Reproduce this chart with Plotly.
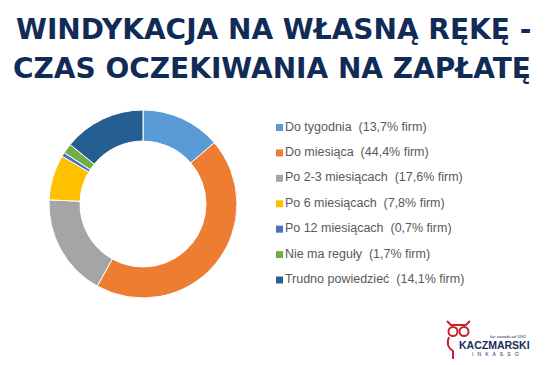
import plotly.graph_objects as go

labels = ["Do tygodnia", "Do miesiąca", "Po 2-3 miesiącach", "Po 6 miesiącach",
          "Po 12 miesiącach", "Nie ma reguły", "Trudno powiedzieć"]
values = [13.7, 44.4, 17.6, 7.8, 0.7, 1.7, 14.1]
colors = ["#5B9BD5", "#ED7D31", "#A5A5A5", "#FFC000", "#4472C4", "#70AD47", "#255E91"]

title_lines = ["WINDYKACJA NA WŁASNĄ RĘKĘ -", "CZAS OCZEKIWANIA NA ZAPŁATĘ"]

W, H = 550, 365
legend_text = [f"{l}  ({str(v).replace('.', ',')}% firm)" for l, v in zip(labels, values)]


def px(x):
    return x / W


def py(y):
    return 1 - y / H


fig = go.Figure()
fig.add_trace(go.Pie(
    labels=labels, values=values, sort=False, direction="clockwise", rotation=0,
    hole=0.67, marker=dict(colors=colors, line=dict(color="white", width=1)),
    textinfo="none", hoverinfo="label+percent", showlegend=False,
    domain=dict(x=[px(143 - 94), px(143 + 94)], y=[py(298), py(110)]),
))

# legend drawn as scatter on a hidden axis
idx = list(range(len(labels)))
fig.add_trace(go.Scatter(
    x=[0] * len(labels), y=idx, mode="markers+text",
    marker=dict(symbol="square", size=7, color=colors),
    text=legend_text, textposition="middle right",
    textfont=dict(family="Liberation Sans, Arial, sans-serif", size=12.5, color="#595959"),
    showlegend=False, hoverinfo="skip", cliponaxis=False,
))

step = (280 - 127.5) / 6
fig.update_layout(
    width=W, height=H, margin=dict(l=0, r=0, t=0, b=0),
    paper_bgcolor="white", plot_bgcolor="rgba(0,0,0,0)",
    xaxis=dict(domain=[px(279.5), 1], range=[0, W - 279.5], visible=False, fixedrange=True),
    yaxis=dict(domain=[0, 1], range=[(H - 127.5) / step, -127.5 / step], visible=False, fixedrange=True),
    font=dict(family="Liberation Sans, Arial, sans-serif"),
)

for yc, xc, line in zip([29.5, 68], [273.5, 272], title_lines):
    fig.add_annotation(text=f"<b>{line}</b>", xref="paper", yref="paper",
                       x=px(xc), y=py(yc), xanchor="center", yanchor="middle",
                       showarrow=False,
                       font=dict(family="DejaVu Sans, sans-serif", size=28, color="#112B57"))

# logo approximation
navy = "#1B2A5E"
red = "#C8202F"
fig.add_annotation(text="<b>KACZMARSKI</b>", xref="paper", yref="paper", x=px(494), y=py(344.5),
                   showarrow=False, xanchor="center", yanchor="middle",
                   font=dict(size=10.5, color=navy, family="Liberation Sans, Arial, sans-serif"))
fig.add_annotation(text="I   N   K   A   S   S   O", xref="paper", yref="paper", x=px(495), y=py(354),
                   showarrow=False, xanchor="center", yanchor="middle",
                   font=dict(size=5, color=navy))
fig.add_annotation(text="fair zawodu od 1992", xref="paper", yref="paper", x=px(508), y=py(336),
                   showarrow=False, xanchor="center", yanchor="middle",
                   font=dict(size=4, color=navy))
for cx in (453, 464):
    fig.add_shape(type="circle", xref="paper", yref="paper",
                  x0=px(cx - 4.5), x1=px(cx + 4.5), y0=py(336), y1=py(327),
                  line=dict(color=red, width=2))
fig.add_shape(type="path", xref="paper", yref="paper",
              path=f"M {px(447)} {py(321)} L {px(451)} {py(325)} L {px(466)} {py(325)} L {px(470)} {py(321)}",
              line=dict(color=red, width=2))
fig.add_shape(type="path", xref="paper", yref="paper",
              path=f"M {px(449)} {py(337)} Q {px(445)} {py(346)} {px(453)} {py(351)} L {px(453)} {py(359)}",
              line=dict(color=red, width=2))

fig.write_html("out.html", config={"displayModeBar": False},
               post_script="document.body.style.margin='0';")
